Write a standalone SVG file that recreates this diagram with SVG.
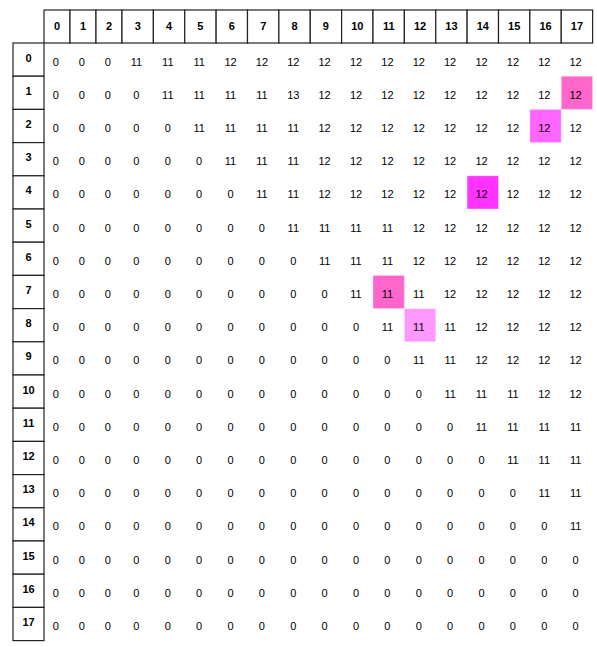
<svg xmlns="http://www.w3.org/2000/svg" width="597" height="647" viewBox="0 0 597 647">
<style>
.hd{fill:#fff;stroke:#222;stroke-width:1.2}
.ht{font-family:"Liberation Sans",Arial,sans-serif;font-size:11px;font-weight:bold;fill:#000;text-anchor:middle}
.v{font-family:"Liberation Sans",Arial,sans-serif;font-size:11px;fill:#000;text-anchor:middle}
.hl{stroke:#fff;stroke-opacity:0.35;stroke-width:1}
</style>
<rect width="597" height="647" fill="#fff"/>
<g id="col-headers">
<rect class="hd" x="44" y="10" width="26" height="33"/><text class="ht" x="57" y="29.5">0</text>
<rect class="hd" x="70" y="10" width="26" height="33"/><text class="ht" x="83" y="29.5">1</text>
<rect class="hd" x="96" y="10" width="26" height="33"/><text class="ht" x="109" y="29.5">2</text>
<rect class="hd" x="122" y="10" width="31.375" height="33"/><text class="ht" x="137.7" y="29.5">3</text>
<rect class="hd" x="153.375" y="10" width="31.375" height="33"/><text class="ht" x="169.1" y="29.5">4</text>
<rect class="hd" x="184.75" y="10" width="31.375" height="33"/><text class="ht" x="200.4" y="29.5">5</text>
<rect class="hd" x="216.125" y="10" width="31.375" height="33"/><text class="ht" x="231.8" y="29.5">6</text>
<rect class="hd" x="247.5" y="10" width="31.375" height="33"/><text class="ht" x="263.2" y="29.5">7</text>
<rect class="hd" x="278.875" y="10" width="31.375" height="33"/><text class="ht" x="294.6" y="29.5">8</text>
<rect class="hd" x="310.25" y="10" width="31.375" height="33"/><text class="ht" x="325.9" y="29.5">9</text>
<rect class="hd" x="341.625" y="10" width="31.375" height="33"/><text class="ht" x="357.3" y="29.5">10</text>
<rect class="hd" x="373" y="10" width="31.375" height="33"/><text class="ht" x="388.7" y="29.5">11</text>
<rect class="hd" x="404.375" y="10" width="31.375" height="33"/><text class="ht" x="420.1" y="29.5">12</text>
<rect class="hd" x="435.75" y="10" width="31.375" height="33"/><text class="ht" x="451.4" y="29.5">13</text>
<rect class="hd" x="467.125" y="10" width="31.375" height="33"/><text class="ht" x="482.8" y="29.5">14</text>
<rect class="hd" x="498.5" y="10" width="31.375" height="33"/><text class="ht" x="514.2" y="29.5">15</text>
<rect class="hd" x="529.875" y="10" width="31.375" height="33"/><text class="ht" x="545.6" y="29.5">16</text>
<rect class="hd" x="561.25" y="10" width="31.375" height="33"/><text class="ht" x="576.9" y="29.5">17</text>
</g>
<g id="row-headers">
<rect class="hd" x="13" y="43" width="31" height="33.2"/><text class="ht" x="28.5" y="61.5">0</text>
<rect class="hd" x="13" y="76.2" width="31" height="33.2"/><text class="ht" x="28.5" y="94.7">1</text>
<rect class="hd" x="13" y="109.4" width="31" height="33.2"/><text class="ht" x="28.5" y="127.9">2</text>
<rect class="hd" x="13" y="142.6" width="31" height="33.2"/><text class="ht" x="28.5" y="161.1">3</text>
<rect class="hd" x="13" y="175.8" width="31" height="33.2"/><text class="ht" x="28.5" y="194.3">4</text>
<rect class="hd" x="13" y="209" width="31" height="33.2"/><text class="ht" x="28.5" y="227.5">5</text>
<rect class="hd" x="13" y="242.2" width="31" height="33.2"/><text class="ht" x="28.5" y="260.7">6</text>
<rect class="hd" x="13" y="275.4" width="31" height="33.2"/><text class="ht" x="28.5" y="293.9">7</text>
<rect class="hd" x="13" y="308.6" width="31" height="33.2"/><text class="ht" x="28.5" y="327.1">8</text>
<rect class="hd" x="13" y="341.8" width="31" height="33.2"/><text class="ht" x="28.5" y="360.3">9</text>
<rect class="hd" x="13" y="375" width="31" height="33.2"/><text class="ht" x="28.5" y="393.5">10</text>
<rect class="hd" x="13" y="408.2" width="31" height="33.2"/><text class="ht" x="28.5" y="426.7">11</text>
<rect class="hd" x="13" y="441.4" width="31" height="33.2"/><text class="ht" x="28.5" y="459.9">12</text>
<rect class="hd" x="13" y="474.6" width="31" height="33.2"/><text class="ht" x="28.5" y="493.1">13</text>
<rect class="hd" x="13" y="507.8" width="31" height="33.2"/><text class="ht" x="28.5" y="526.3">14</text>
<rect class="hd" x="13" y="541" width="31" height="33.2"/><text class="ht" x="28.5" y="559.5">15</text>
<rect class="hd" x="13" y="574.2" width="31" height="33.2"/><text class="ht" x="28.5" y="592.7">16</text>
<rect class="hd" x="13" y="607.4" width="31" height="33.2"/><text class="ht" x="28.5" y="625.9">17</text>
</g>
<g id="highlights">
<rect class="hl" x="561.25" y="76.2" width="31.375" height="33.2" fill="#ff66cc"/>
<rect class="hl" x="529.875" y="109.4" width="31.375" height="33.2" fill="#ff66ff"/>
<rect class="hl" x="467.125" y="175.8" width="31.375" height="33.2" fill="#ff33ff"/>
<rect class="hl" x="373" y="275.4" width="31.375" height="33.2" fill="#ff66cc"/>
<rect class="hl" x="404.375" y="308.6" width="31.375" height="33.2" fill="#ff99ff"/>
</g>
<g id="row-0" transform="translate(0,43)"><text class="v" y="22.5"><tspan x="55.7">0</tspan><tspan x="81.7">0</tspan><tspan x="107.7">0</tspan><tspan x="136.4">11</tspan><tspan x="167.8">11</tspan><tspan x="199.1">11</tspan><tspan x="230.5">12</tspan><tspan x="261.9">12</tspan><tspan x="293.3">12</tspan><tspan x="324.6">12</tspan><tspan x="356">12</tspan><tspan x="387.4">12</tspan><tspan x="418.8">12</tspan><tspan x="450.1">12</tspan><tspan x="481.5">12</tspan><tspan x="512.9">12</tspan><tspan x="544.3">12</tspan><tspan x="575.6">12</tspan></text></g>
<g id="row-1" transform="translate(0,76.2)"><text class="v" y="22.5"><tspan x="55.7">0</tspan><tspan x="81.7">0</tspan><tspan x="107.7">0</tspan><tspan x="136.4">0</tspan><tspan x="167.8">11</tspan><tspan x="199.1">11</tspan><tspan x="230.5">11</tspan><tspan x="261.9">11</tspan><tspan x="293.3">13</tspan><tspan x="324.6">12</tspan><tspan x="356">12</tspan><tspan x="387.4">12</tspan><tspan x="418.8">12</tspan><tspan x="450.1">12</tspan><tspan x="481.5">12</tspan><tspan x="512.9">12</tspan><tspan x="544.3">12</tspan><tspan x="575.6">12</tspan></text></g>
<g id="row-2" transform="translate(0,109.4)"><text class="v" y="22.5"><tspan x="55.7">0</tspan><tspan x="81.7">0</tspan><tspan x="107.7">0</tspan><tspan x="136.4">0</tspan><tspan x="167.8">0</tspan><tspan x="199.1">11</tspan><tspan x="230.5">11</tspan><tspan x="261.9">11</tspan><tspan x="293.3">11</tspan><tspan x="324.6">12</tspan><tspan x="356">12</tspan><tspan x="387.4">12</tspan><tspan x="418.8">12</tspan><tspan x="450.1">12</tspan><tspan x="481.5">12</tspan><tspan x="512.9">12</tspan><tspan x="544.3">12</tspan><tspan x="575.6">12</tspan></text></g>
<g id="row-3" transform="translate(0,142.6)"><text class="v" y="22.5"><tspan x="55.7">0</tspan><tspan x="81.7">0</tspan><tspan x="107.7">0</tspan><tspan x="136.4">0</tspan><tspan x="167.8">0</tspan><tspan x="199.1">0</tspan><tspan x="230.5">11</tspan><tspan x="261.9">11</tspan><tspan x="293.3">11</tspan><tspan x="324.6">12</tspan><tspan x="356">12</tspan><tspan x="387.4">12</tspan><tspan x="418.8">12</tspan><tspan x="450.1">12</tspan><tspan x="481.5">12</tspan><tspan x="512.9">12</tspan><tspan x="544.3">12</tspan><tspan x="575.6">12</tspan></text></g>
<g id="row-4" transform="translate(0,175.8)"><text class="v" y="22.5"><tspan x="55.7">0</tspan><tspan x="81.7">0</tspan><tspan x="107.7">0</tspan><tspan x="136.4">0</tspan><tspan x="167.8">0</tspan><tspan x="199.1">0</tspan><tspan x="230.5">0</tspan><tspan x="261.9">11</tspan><tspan x="293.3">11</tspan><tspan x="324.6">12</tspan><tspan x="356">12</tspan><tspan x="387.4">12</tspan><tspan x="418.8">12</tspan><tspan x="450.1">12</tspan><tspan x="481.5">12</tspan><tspan x="512.9">12</tspan><tspan x="544.3">12</tspan><tspan x="575.6">12</tspan></text></g>
<g id="row-5" transform="translate(0,209)"><text class="v" y="22.5"><tspan x="55.7">0</tspan><tspan x="81.7">0</tspan><tspan x="107.7">0</tspan><tspan x="136.4">0</tspan><tspan x="167.8">0</tspan><tspan x="199.1">0</tspan><tspan x="230.5">0</tspan><tspan x="261.9">0</tspan><tspan x="293.3">11</tspan><tspan x="324.6">11</tspan><tspan x="356">11</tspan><tspan x="387.4">11</tspan><tspan x="418.8">12</tspan><tspan x="450.1">12</tspan><tspan x="481.5">12</tspan><tspan x="512.9">12</tspan><tspan x="544.3">12</tspan><tspan x="575.6">12</tspan></text></g>
<g id="row-6" transform="translate(0,242.2)"><text class="v" y="22.5"><tspan x="55.7">0</tspan><tspan x="81.7">0</tspan><tspan x="107.7">0</tspan><tspan x="136.4">0</tspan><tspan x="167.8">0</tspan><tspan x="199.1">0</tspan><tspan x="230.5">0</tspan><tspan x="261.9">0</tspan><tspan x="293.3">0</tspan><tspan x="324.6">11</tspan><tspan x="356">11</tspan><tspan x="387.4">11</tspan><tspan x="418.8">12</tspan><tspan x="450.1">12</tspan><tspan x="481.5">12</tspan><tspan x="512.9">12</tspan><tspan x="544.3">12</tspan><tspan x="575.6">12</tspan></text></g>
<g id="row-7" transform="translate(0,275.4)"><text class="v" y="22.5"><tspan x="55.7">0</tspan><tspan x="81.7">0</tspan><tspan x="107.7">0</tspan><tspan x="136.4">0</tspan><tspan x="167.8">0</tspan><tspan x="199.1">0</tspan><tspan x="230.5">0</tspan><tspan x="261.9">0</tspan><tspan x="293.3">0</tspan><tspan x="324.6">0</tspan><tspan x="356">11</tspan><tspan x="387.4">11</tspan><tspan x="418.8">11</tspan><tspan x="450.1">12</tspan><tspan x="481.5">12</tspan><tspan x="512.9">12</tspan><tspan x="544.3">12</tspan><tspan x="575.6">12</tspan></text></g>
<g id="row-8" transform="translate(0,308.6)"><text class="v" y="22.5"><tspan x="55.7">0</tspan><tspan x="81.7">0</tspan><tspan x="107.7">0</tspan><tspan x="136.4">0</tspan><tspan x="167.8">0</tspan><tspan x="199.1">0</tspan><tspan x="230.5">0</tspan><tspan x="261.9">0</tspan><tspan x="293.3">0</tspan><tspan x="324.6">0</tspan><tspan x="356">0</tspan><tspan x="387.4">11</tspan><tspan x="418.8">11</tspan><tspan x="450.1">11</tspan><tspan x="481.5">12</tspan><tspan x="512.9">12</tspan><tspan x="544.3">12</tspan><tspan x="575.6">12</tspan></text></g>
<g id="row-9" transform="translate(0,341.8)"><text class="v" y="22.5"><tspan x="55.7">0</tspan><tspan x="81.7">0</tspan><tspan x="107.7">0</tspan><tspan x="136.4">0</tspan><tspan x="167.8">0</tspan><tspan x="199.1">0</tspan><tspan x="230.5">0</tspan><tspan x="261.9">0</tspan><tspan x="293.3">0</tspan><tspan x="324.6">0</tspan><tspan x="356">0</tspan><tspan x="387.4">0</tspan><tspan x="418.8">11</tspan><tspan x="450.1">11</tspan><tspan x="481.5">12</tspan><tspan x="512.9">12</tspan><tspan x="544.3">12</tspan><tspan x="575.6">12</tspan></text></g>
<g id="row-10" transform="translate(0,375)"><text class="v" y="22.5"><tspan x="55.7">0</tspan><tspan x="81.7">0</tspan><tspan x="107.7">0</tspan><tspan x="136.4">0</tspan><tspan x="167.8">0</tspan><tspan x="199.1">0</tspan><tspan x="230.5">0</tspan><tspan x="261.9">0</tspan><tspan x="293.3">0</tspan><tspan x="324.6">0</tspan><tspan x="356">0</tspan><tspan x="387.4">0</tspan><tspan x="418.8">0</tspan><tspan x="450.1">11</tspan><tspan x="481.5">11</tspan><tspan x="512.9">11</tspan><tspan x="544.3">12</tspan><tspan x="575.6">12</tspan></text></g>
<g id="row-11" transform="translate(0,408.2)"><text class="v" y="22.5"><tspan x="55.7">0</tspan><tspan x="81.7">0</tspan><tspan x="107.7">0</tspan><tspan x="136.4">0</tspan><tspan x="167.8">0</tspan><tspan x="199.1">0</tspan><tspan x="230.5">0</tspan><tspan x="261.9">0</tspan><tspan x="293.3">0</tspan><tspan x="324.6">0</tspan><tspan x="356">0</tspan><tspan x="387.4">0</tspan><tspan x="418.8">0</tspan><tspan x="450.1">0</tspan><tspan x="481.5">11</tspan><tspan x="512.9">11</tspan><tspan x="544.3">11</tspan><tspan x="575.6">11</tspan></text></g>
<g id="row-12" transform="translate(0,441.4)"><text class="v" y="22.5"><tspan x="55.7">0</tspan><tspan x="81.7">0</tspan><tspan x="107.7">0</tspan><tspan x="136.4">0</tspan><tspan x="167.8">0</tspan><tspan x="199.1">0</tspan><tspan x="230.5">0</tspan><tspan x="261.9">0</tspan><tspan x="293.3">0</tspan><tspan x="324.6">0</tspan><tspan x="356">0</tspan><tspan x="387.4">0</tspan><tspan x="418.8">0</tspan><tspan x="450.1">0</tspan><tspan x="481.5">0</tspan><tspan x="512.9">11</tspan><tspan x="544.3">11</tspan><tspan x="575.6">11</tspan></text></g>
<g id="row-13" transform="translate(0,474.6)"><text class="v" y="22.5"><tspan x="55.7">0</tspan><tspan x="81.7">0</tspan><tspan x="107.7">0</tspan><tspan x="136.4">0</tspan><tspan x="167.8">0</tspan><tspan x="199.1">0</tspan><tspan x="230.5">0</tspan><tspan x="261.9">0</tspan><tspan x="293.3">0</tspan><tspan x="324.6">0</tspan><tspan x="356">0</tspan><tspan x="387.4">0</tspan><tspan x="418.8">0</tspan><tspan x="450.1">0</tspan><tspan x="481.5">0</tspan><tspan x="512.9">0</tspan><tspan x="544.3">11</tspan><tspan x="575.6">11</tspan></text></g>
<g id="row-14" transform="translate(0,507.8)"><text class="v" y="22.5"><tspan x="55.7">0</tspan><tspan x="81.7">0</tspan><tspan x="107.7">0</tspan><tspan x="136.4">0</tspan><tspan x="167.8">0</tspan><tspan x="199.1">0</tspan><tspan x="230.5">0</tspan><tspan x="261.9">0</tspan><tspan x="293.3">0</tspan><tspan x="324.6">0</tspan><tspan x="356">0</tspan><tspan x="387.4">0</tspan><tspan x="418.8">0</tspan><tspan x="450.1">0</tspan><tspan x="481.5">0</tspan><tspan x="512.9">0</tspan><tspan x="544.3">0</tspan><tspan x="575.6">11</tspan></text></g>
<g id="row-15" transform="translate(0,541)"><text class="v" y="22.5"><tspan x="55.7">0</tspan><tspan x="81.7">0</tspan><tspan x="107.7">0</tspan><tspan x="136.4">0</tspan><tspan x="167.8">0</tspan><tspan x="199.1">0</tspan><tspan x="230.5">0</tspan><tspan x="261.9">0</tspan><tspan x="293.3">0</tspan><tspan x="324.6">0</tspan><tspan x="356">0</tspan><tspan x="387.4">0</tspan><tspan x="418.8">0</tspan><tspan x="450.1">0</tspan><tspan x="481.5">0</tspan><tspan x="512.9">0</tspan><tspan x="544.3">0</tspan><tspan x="575.6">0</tspan></text></g>
<g id="row-16" transform="translate(0,574.2)"><text class="v" y="22.5"><tspan x="55.7">0</tspan><tspan x="81.7">0</tspan><tspan x="107.7">0</tspan><tspan x="136.4">0</tspan><tspan x="167.8">0</tspan><tspan x="199.1">0</tspan><tspan x="230.5">0</tspan><tspan x="261.9">0</tspan><tspan x="293.3">0</tspan><tspan x="324.6">0</tspan><tspan x="356">0</tspan><tspan x="387.4">0</tspan><tspan x="418.8">0</tspan><tspan x="450.1">0</tspan><tspan x="481.5">0</tspan><tspan x="512.9">0</tspan><tspan x="544.3">0</tspan><tspan x="575.6">0</tspan></text></g>
<g id="row-17" transform="translate(0,607.4)"><text class="v" y="22.5"><tspan x="55.7">0</tspan><tspan x="81.7">0</tspan><tspan x="107.7">0</tspan><tspan x="136.4">0</tspan><tspan x="167.8">0</tspan><tspan x="199.1">0</tspan><tspan x="230.5">0</tspan><tspan x="261.9">0</tspan><tspan x="293.3">0</tspan><tspan x="324.6">0</tspan><tspan x="356">0</tspan><tspan x="387.4">0</tspan><tspan x="418.8">0</tspan><tspan x="450.1">0</tspan><tspan x="481.5">0</tspan><tspan x="512.9">0</tspan><tspan x="544.3">0</tspan><tspan x="575.6">0</tspan></text></g>
<g id="connectors"></g>
</svg>
